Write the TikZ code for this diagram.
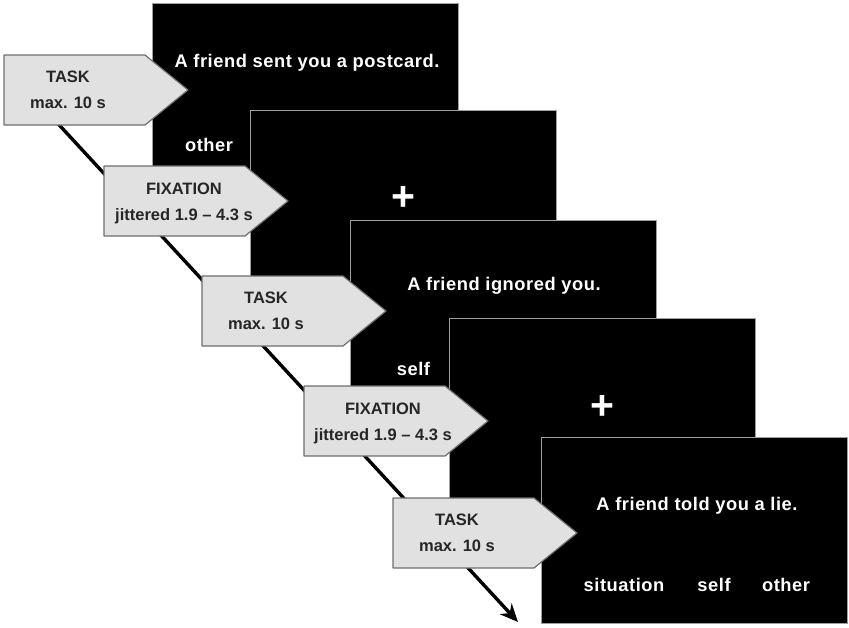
\documentclass[tikz,border=0pt]{standalone}
\usepackage{fontspec}
\setmainfont{Liberation Sans}
\newfontfamily\scrfont[LetterSpace=3]{Liberation Sans}
\usetikzlibrary{arrows.meta}
\definecolor{cuegray}{HTML}{E1E1E1}
\definecolor{edgegray}{HTML}{6E6E6E}

\begin{document}
\begin{tikzpicture}[x=1pt,y=-1pt,>={Stealth[length=18pt,width=16pt]},line join=round,
    screen/.style={draw=gray!75,line width=1pt,fill=black,minimum width=306pt,minimum height=186pt,anchor=north west,inner sep=0pt},
    cue/.style={draw=edgegray,fill=cuegray,line width=1.2pt},
    cuetext/.style={align=center,text=black!85,font=\bfseries\fontsize{16.5}{26}\selectfont},
    sent/.style={anchor=base,text=white,font=\scrfont\bfseries\fontsize{18.3}{20}\selectfont},
    cross/.style={text=white,font=\bfseries\fontsize{41}{41}\selectfont}]
    \useasboundingbox (0,0) rectangle (849,627);
    % screens
    \node[screen] (s1) at (152,3) {};
    \node[screen] (s2) at (250,110) {};
    \node[screen] (s3) at (350,220) {};
    \node[screen] (s4) at (449,318) {};
    \node[screen] (s5) at (541,437) {};
    % time line
    \coordinate (start) at (50,115);
    \coordinate (end) at (518,622);
    \draw[->,line width=3.4pt] (start) -- (end);
    % cues
    \draw[cue] (4,55) -- (145,55) -- (188,90) -- (145,125) -- (4,125) -- cycle;
    \draw[cue] (104,166) -- (245,166) -- (288,201) -- (245,236) -- (104,236) -- cycle;
    \draw[cue] (202,276) -- (343,276) -- (386,311) -- (343,346) -- (202,346) -- cycle;
    \draw[cue] (304,386) -- (445,386) -- (488,421) -- (445,456) -- (304,456) -- cycle;
    \draw[cue] (393,498) -- (534,498) -- (577,533) -- (534,568) -- (393,568) -- cycle;
    \node[cuetext] (task1) at (68,90) {TASK\\max. 10 s};
    \node[cuetext] (fix1) at (184,203) {FIXATION\\jittered 1.9 -- 4.3 s};
    \node[cuetext] (task2) at (266,311) {TASK\\max. 10 s};
    \node[cuetext] (fix2) at (383,423) {FIXATION\\jittered 1.9 -- 4.3 s};
    \node[cuetext] (task3) at (457,533) {TASK\\max. 10 s};
    % screen texts
    \node[sent] (postcard) at (307,67.7) {A friend sent you a postcard.};
    \node[sent] (other1) at (209,151.5) {other};
    \node[cross] (cross1) at (403,198) {+};
    \node[sent] (ignored) at (504,290.7) {A friend ignored you.};
    \node[sent] (self1) at (413.5,375.5) {self};
    \node[cross] (cross2) at (602,407) {+};
    \node[sent] (lie) at (697,510.7) {A friend told you a lie.};
    \node[sent] (situation) at (624,591.5) {situation};
    \node[sent] (self2) at (714,591.5) {self};
    \node[sent] (other2) at (786,591.5) {other};
\end{tikzpicture}
\end{document}
